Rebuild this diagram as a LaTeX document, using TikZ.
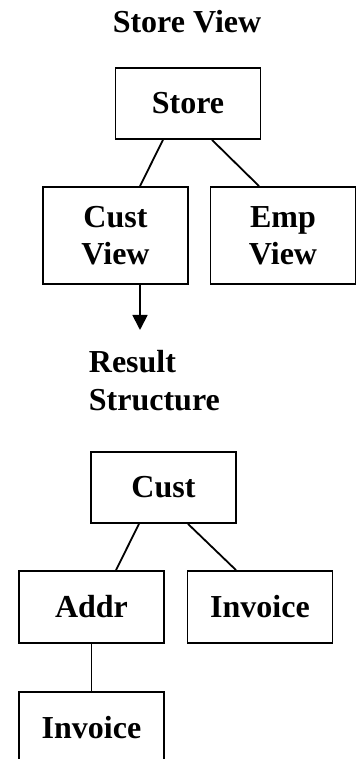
\documentclass[tikz,border=0pt]{standalone}
\usepackage{fontspec}
\setmainfont{Liberation Serif}
\usetikzlibrary{arrows.meta}

\begin{document}
\begin{tikzpicture}[x=1pt, y=1pt, line width=1.8pt]

    \useasboundingbox (0,0) rectangle (358,759);
    \clip (0,0) rectangle (358,759);

    \tikzset{box/.style={draw, inner sep=0pt, minimum width=145pt, align=center,
                         font=\fontsize{32}{37}\selectfont\bfseries}}
    \tikzset{caption/.style={inner sep=0pt, align=left,
                             font=\fontsize{32}{38}\selectfont\bfseries}}

    % Store view
    \node[caption] (title) at (187,737) {Store View};
    \node[box, minimum height=71pt] (store)    at (188,655.5) {Store};
    \node[box, minimum height=97pt] (custview) at (115.5,523.5) {Cust\\View};
    \node[box, minimum height=97pt] (empview)  at (283,523.5) {Emp\\View};

    \draw ([xshift=-25pt]store.south) -- ([xshift=24.5pt]custview.north);
    \draw ([xshift=24pt]store.south)  -- ([xshift=-24pt]empview.north);

    \coordinate (tip) at (140,429);
    \draw[-{Triangle[length=15pt, width=15pt]}] ([xshift=24.5pt]custview.south) -- (tip);

    % Result structure
    \node[caption, anchor=west] (result) at (88,378) {Result\\Structure};
    \node[box, minimum height=71pt] (cust)    at (163.5,271.5) {Cust};
    \node[box, minimum height=72pt] (addr)    at (91.5,152) {Addr};
    \node[box, minimum height=72pt] (invoice) at (260,152) {Invoice};
    \node[box, minimum height=72pt] (subinv)  at (91.5,31) {Invoice};

    \draw ([xshift=-24.5pt]cust.south) -- ([xshift=24.5pt]addr.north);
    \draw ([xshift=24.5pt]cust.south)  -- ([xshift=-24pt]invoice.north);
    \draw (addr) -- (subinv);

\end{tikzpicture}
\end{document}
